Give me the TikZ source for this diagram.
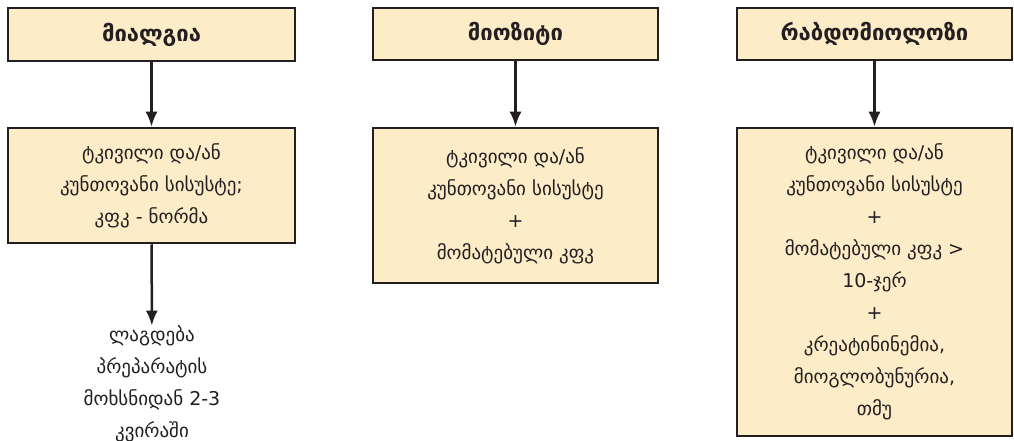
\documentclass[tikz,border=0pt]{standalone}
\usepackage{fontspec}
\setmainfont{DejaVu Sans}
\usetikzlibrary{arrows.meta}
\definecolor{boxfill}{RGB}{253,236,200}
\definecolor{boxline}{RGB}{35,31,32}
\tikzset{
  head/.style={draw=boxline,line width=2.5pt,fill=boxfill,font=\fontsize{22}{26}\selectfont\bfseries,inner sep=0pt},
  body/.style={draw=boxline,line width=2.5pt,fill=boxfill,align=center,font=\fontsize{19}{32}\selectfont,inner sep=0pt},
  free/.style={align=center,font=\fontsize{19}{32}\selectfont,inner sep=0pt}
}
\begin{document}
\begin{tikzpicture}[x=1pt,y=-1pt,>={Latex[length=15pt,width=12pt]}]
\useasboundingbox (0,0) rectangle (1014,441);
\color{boxline}
% column 1
\node[head,minimum width=287pt,minimum height=53pt] (mial) at (151.5,34.5) {მიალგია};
\node[body,minimum width=287pt,minimum height=115pt] (mialbox) at (151.5,185.5) {ტკივილი და/ან\\კუნთოვანი სისუსტე;\\კფკ - ნორმა};
\node[free] (mialtxt) at (152,384) {ლაგდება\\პრეპარატის\\მოხსნიდან 2-3\\კვირაში};
\draw[->,line width=2.5pt] (mial) -- (mialbox);
\draw[->,line width=2.5pt] (mialbox) -- (mialtxt);

% column 2
\node[head,minimum width=285pt,minimum height=52pt] (mioz) at (515.5,34) {მიოზიტი};
\node[body,minimum width=285pt,minimum height=155pt] (miozbox) at (515.5,205.5) {ტკივილი და/ან\\კუნთოვანი სისუსტე\\+\\მომატებული კფკ};
\draw[->,line width=2.5pt] (mioz) -- (miozbox);

% column 3
\node[head,minimum width=275pt,minimum height=52pt] (rabd) at (874.5,34) {რაბდომიოლოზი};
\node[body,minimum width=275pt,minimum height=308pt] (rabdbox) at (874.5,282) {ტკივილი და/ან\\კუნთოვანი სისუსტე\\+\\მომატებული კფკ >\\10-ჯერ\\+\\კრეატინინემია,\\მიოგლობუნურია,\\თმუ};
\draw[->,line width=2.5pt] (rabd) -- (rabdbox);
\end{tikzpicture}
\end{document}
